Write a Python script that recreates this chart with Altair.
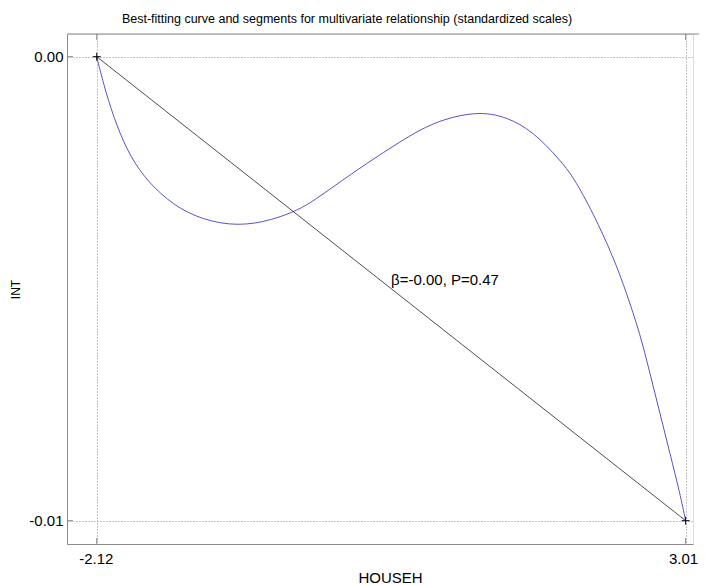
import altair as alt
import pandas as pd

# Curve (HOUSEH, INT)
curve_x = [-2.12, -2.063, -1.975, -1.859, -1.714, -1.510, -1.279, -0.959, -0.669,
           -0.408, -0.262, -0.059, 0.232, 0.522, 0.812, 1.190, 1.451, 1.683, 1.915,
           2.031, 2.205, 2.379, 2.496, 2.612, 2.699, 2.786, 2.873, 2.960, 3.01]
curve_y = [0.0, -0.000573, -0.001293, -0.002011, -0.002586, -0.003088, -0.003448,
           -0.003649, -0.003578, -0.003353, -0.003159, -0.002802, -0.002297, -0.001832,
           -0.001401, -0.00117, -0.001293, -0.001616, -0.002226, -0.002586, -0.003375,
           -0.00431, -0.005099, -0.005961, -0.006823, -0.007685, -0.008547, -0.009409, -0.01]

# Straight segment between the end points
seg_x = [-2.12, 3.01]
seg_y = [0.0, -0.01]

# Ticks
x_ticks = [-2.12, 3.01]
y_ticks = [0.0, -0.01]

# Annotation
ann_x = [0.444]
ann_y = [-0.00492]
ann_text = ["\u03b2=-0.00, P=0.47"]

W, H = 626, 510
XDOM = [-2.379, 3.074]
YDOM = [-0.010502, 0.000489]
FONT = "Liberation Sans"
GRAY = "#8a8a8a"
BLUE = "#5555c8"

curve_df = pd.DataFrame({"x": curve_x, "y": curve_y})
seg_df = pd.DataFrame({"x": seg_x, "y": seg_y})
xt_df = pd.DataFrame({"v": x_ticks})
yt_df = pd.DataFrame({"v": y_ticks})
ann_df = pd.DataFrame({"x": ann_x, "y": ann_y, "t": ann_text})

lab_expr = "datum.value < 0 ? '-' + format(-datum.value, '.2f') : format(datum.value, '.2f')"

xs = alt.Scale(domain=XDOM, nice=False, zero=False)
ys = alt.Scale(domain=YDOM, nice=False, zero=False)

x_axis = alt.Axis(values=x_ticks, labelExpr=lab_expr, grid=True, gridDash=[1, 2],
                  gridColor=GRAY, gridWidth=1, domainColor=GRAY, domainWidth=1,
                  ticks=False, tickSize=0, labelPadding=19, labelBaseline="alphabetic",
                  labelAlign={"condition": {"test": "datum.value > 0", "value": "right"},
                              "value": "center"},
                  labelOffset={"condition": {"test": "datum.value > 0", "value": 12},
                               "value": -1},
                  labelFontSize=15, labelFont=FONT, labelColor="black", labelFlush=False,
                  title="HOUSEH", titleFont=FONT, titleFontSize=15, titleFontWeight="normal",
                  titleColor="black", titleX=323, titleY=38, titleAlign="center",
                  titleBaseline="alphabetic")
y_axis = alt.Axis(values=y_ticks, labelExpr=lab_expr, grid=True, gridDash=[1, 2],
                  gridColor=GRAY, gridWidth=1, domainColor=GRAY, domainWidth=1,
                  ticks=False, tickSize=0, labelPadding=4, labelBaseline="middle",
                  labelFontSize=15, labelFont=FONT, labelColor="black", labelFlush=False,
                  title="INT", titleFont=FONT, titleFontSize=12, titleFontWeight="normal",
                  titleColor="black", titleAngle=270, titleX=-52, titleY=255,
                  titleAlign="center", titleBaseline="middle")

curve = alt.Chart(curve_df).mark_line(color=BLUE, strokeWidth=1, interpolate="basis").encode(
    x=alt.X("x:Q", scale=xs, axis=x_axis),
    y=alt.Y("y:Q", scale=ys, axis=y_axis),
)

seg = alt.Chart(seg_df).mark_line(color="#3a3a3a", strokeWidth=0.9).encode(
    x=alt.X("x:Q", scale=xs), y=alt.Y("y:Q", scale=ys)
)

pts = alt.Chart(seg_df).mark_point(shape="M-1,0L1,0M0,-1L0,1", filled=False, color="black",
                                   strokeWidth=1, size=64, opacity=1).encode(
    x=alt.X("x:Q", scale=xs), y=alt.Y("y:Q", scale=ys)
)

ann = alt.Chart(ann_df).mark_text(align="left", baseline="alphabetic", font=FONT,
                                  fontSize=15, color="black").encode(
    x=alt.X("x:Q", scale=xs), y=alt.Y("y:Q", scale=ys), text="t:N"
)

# top frame line
top_line = alt.Chart(xt_df.head(1)).mark_rule(color=GRAY, strokeWidth=1).encode(
    x=alt.value(0), x2=alt.value(W + 6), y=alt.value(0)
)
top_ticks = alt.Chart(xt_df).mark_rule(color=GRAY, strokeWidth=1).encode(
    x=alt.X("v:Q", scale=xs), y=alt.value(0), y2=alt.value(6)
)
bot_ticks = alt.Chart(xt_df).mark_rule(color=GRAY, strokeWidth=1).encode(
    x=alt.X("v:Q", scale=xs), y=alt.value(H), y2=alt.value(H - 6)
)
left_ticks = alt.Chart(yt_df).mark_rule(color=GRAY, strokeWidth=1).encode(
    y=alt.Y("v:Q", scale=ys), x=alt.value(0), x2=alt.value(6)
)

chart = alt.layer(curve, seg, top_line, top_ticks, bot_ticks, left_ticks, pts, ann).properties(
    width=W, height=H,
    title=alt.TitleParams(
        "Best-fitting curve and segments for multivariate relationship (standardized scales)",
        font=FONT, fontSize=12.5, fontWeight="normal", color="black",
        anchor="middle", frame="group", dx=-33, offset=8),
    autosize=alt.AutoSizeParams(type="none"),
    padding={"left": 59, "top": 26, "right": 6, "bottom": 40},
).configure_view(stroke=None).configure(background="white")

chart.save("out.html", embed_options={"renderer": "svg", "actions": False})
